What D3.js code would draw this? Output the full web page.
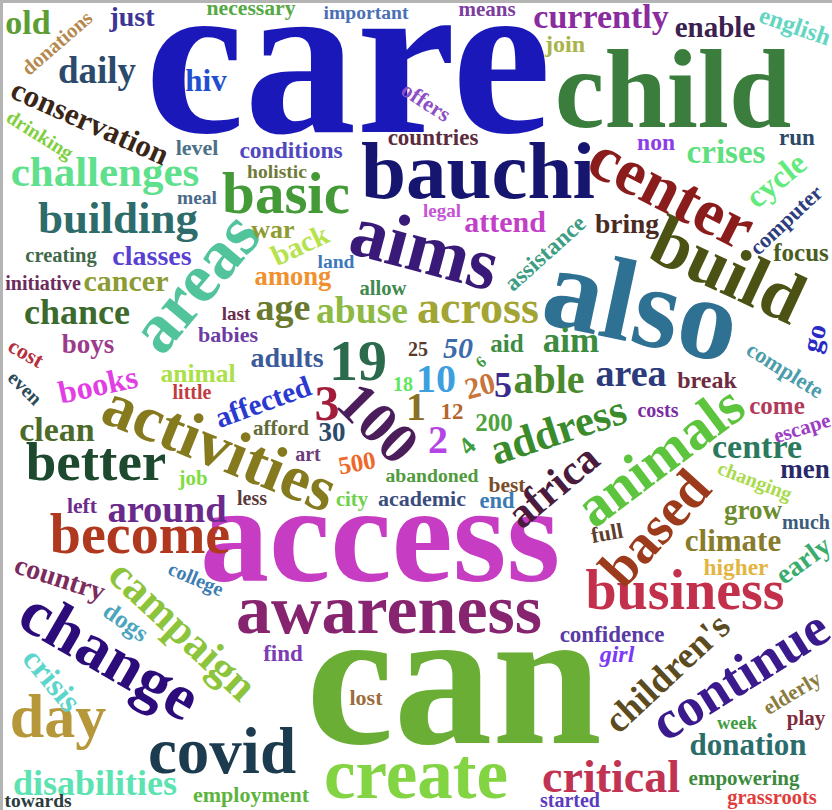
<!DOCTYPE html>
<html>
<head>
<meta charset="utf-8">
<script src="https://cdn.jsdelivr.net/npm/d3@7"></script>
<style>
  body { margin: 0; background: #fff; }
</style>
</head>
<body>
<div id="cloud"></div>
<script>
// words of the cloud, biggest first
var words = [
  'care', 'can', 'access', 'child', 'bauchi', 'also', 'build', 'center', 'aims', 'areas',
  'basic', 'activities', 'animals', 'awareness', 'change', 'covid', 'create', 'day', 'business', 'continue',
  'become', 'better', 'based', '19', 'campaign', 'critical', 'address', 'challenges', 'across', 'africa',
  'building', 'able', '100', 'around', 'area', 'abuse', '10', 'age', 'chance', 'disabilities',
  "children's", '3', '2', '1', 'daily', 'aim', '5', 'centre', 'clean', 'currently',
  'crises', 'cycle', 'books', 'conservation', 'climate', 'donation', 'hiv', 'crisis', 'attend', 'cancer',
  '50', '20', 'affected', 'enable', 'back', 'country', 'adults', 'classes', 'early', 'go',
  'bring', '30', 'boys', 'men', 'grow', 'among', 'war', 'just', 'old', 'dogs',
  'animal', 'focus', 'aid', '200', '4', '500', 'come', 'english', 'break', 'join',
  'non', 'conditions', 'assistance', 'girl', 'higher', 'run', 'countries', 'confidence', '12', 'find',
  'end', 'computer', 'complete', 'offers', 'academic', 'employment', 'level', 'babies', 'necessary', 'lost',
  'best', 'elderly', 'left', 'play', 'means', 'escape', 'afford', 'job', 'empowering', 'donations',
  'allow', 'city', 'creating', 'grassroots', 'drinking', 'initiative', 'little', 'less', 'costs', 'much',
  'changing', 'started', 'art', '25', '18', 'holistic', 'important', 'land', 'abandoned', 'towards',
  'meal', 'legal', 'last', 'college', 'cost', 'even', 'week', '6', 'full'
];

// word weight (drawn as font size)
var weights = [
  224, 197, 138, 112, 81, 117, 72, 66, 75, 70,
  59, 65, 58, 70, 65, 65, 71, 62, 56, 54,
  56, 55, 55, 58, 44, 46, 43, 43, 46, 42,
  45, 40, 58, 38.5, 38, 37.6, 40, 38, 36, 36,
  37, 50, 40, 40, 37, 35, 36, 34, 34, 34,
  33, 32, 32, 31, 31, 31, 31, 32, 30, 30,
  30, 30, 29.5, 29, 29, 28, 28, 28, 28, 28,
  27.5, 27, 27, 27, 27, 26.6, 26, 28, 34, 25,
  25.5, 25, 25, 25, 25, 25, 25, 24.6, 24, 24,
  23.5, 23.5, 23.7, 24, 23.4, 23, 23, 23, 23, 23,
  22.5, 22, 22.4, 22, 22, 22, 22, 22, 21.7, 22,
  21.5, 21.5, 21.6, 21, 21, 21, 21, 21, 21, 20.6,
  20.6, 20.6, 20.5, 20.5, 20, 20, 20, 20, 20, 20,
  20, 20, 20, 20, 20, 19.6, 19.6, 19.6, 19.7, 19.5,
  19.5, 19, 19, 20, 22, 20, 18.5, 16, 22
];

// placement of each word in the cloud grid (0..832 by 0..810) and its turn in degrees
var posX = [
  348, 454, 380, 673, 478, 642, 728, 672, 425, 195,
  286, 220, 660, 389, 110, 222, 416, 58, 685, 740,
  140, 96, 655, 358, 183, 611, 558, 105, 478, 553,
  118, 549, 378, 167, 631, 362, 436, 283, 77, 95,
  667, 327, 438, 416, 97, 571, 503, 757, 57, 601,
  726, 776, 98, 90, 733, 748, 206, 52, 505, 126,
  458, 480, 263, 715, 300, 60, 287, 152, 803, 814,
  627, 332, 88, 805, 753, 293, 273, 132, 28, 126,
  198, 801, 507, 494, 467, 357, 777, 795, 707, 565,
  656, 291, 545, 617, 736, 797, 433, 612, 452, 283,
  497, 786, 785, 426, 422, 251, 197, 228, 251, 366,
  507, 792, 82, 806, 487, 802, 281, 193, 744, 57,
  383, 352, 61, 772, 40, 43, 192, 252, 658, 806,
  755, 570, 308, 418, 403, 277, 366, 336, 432, 38,
  197, 442, 236, 196, 26, 25, 737, 481, 607
];
var posY = [
  58, 678, 535, 90, 171, 305, 270, 192, 248, 282,
  194, 447, 456, 610, 655, 752, 775, 717, 591, 675,
  535, 462, 528, 361, 630, 777, 430, 172, 308, 486,
  218, 380, 423, 509, 373, 311, 379, 307, 312, 783,
  673, 403, 440, 407, 71, 340, 385, 447, 430, 17,
  152, 180, 385, 122, 541, 745, 81, 680, 222, 281,
  348, 386, 402, 27, 245, 578, 358, 256, 560, 338,
  224, 432, 344, 469, 510, 276, 229, 17, 23, 622,
  374, 253, 344, 423, 446, 463, 406, 26, 380, 44,
  142, 150, 253, 654, 567, 137, 137, 634, 411, 653,
  501, 220, 370, 102, 499, 795, 148, 335, 8, 698,
  485, 693, 506, 718, 9, 428, 428, 478, 778, 43,
  288, 499, 255, 797, 135, 283, 392, 498, 410, 522,
  481, 800, 454, 349, 384, 172, 13, 262, 475, 801,
  198, 211, 314, 579, 353, 388, 723, 362, 533
];
var angles = [
  0, 0, 0, 0, 0, 12, 25, 27, 15, -50,
  0, 22, -37, 0, 30, 0, 0, 0, 0, -32,
  0, 0, -48, 0, 43, 0, -18, 0, 0, -40,
  0, 0, 45, 0, 0, 0, 0, 0, 0, 0,
  -43, 0, 0, 0, 0, 0, 0, 0, 0, 0,
  0, -39, -12, 24, 0, 0, 0, 50, 0, 0,
  0, -15, -20, 0, -25, 18, 0, 0, -36, -75,
  0, 0, 0, 0, 0, 0, 0, 0, 0, 35,
  0, 0, 0, 0, -45, -10, 0, 19, 0, 0,
  0, 0, -42, 0, 0, 0, 0, 0, 0, 0,
  0, -43, 32, 33, 0, 0, 0, 0, 0, 0,
  0, -31, 0, 0, 0, -17, 0, 0, 0, -41,
  0, 0, 0, 0, 32, 0, 0, 0, 0, 0,
  21, 0, 0, 0, 0, 0, 0, 0, 0, 0,
  0, 0, 0, 23, 30, 45, 0, -40, -10
];

var colors = [
  '#1a18b8', '#6aae36', '#c63cc2', '#3b7d3c', '#161670', '#2f7192', '#4b5213', '#8b1c1c', '#3a1a78', '#52c49c',
  '#449a37', '#857a1e', '#5cc43d', '#86246f', '#2c0c7a', '#1d3b4e', '#83d443', '#b6973a', '#c2304c', '#3a1a8c',
  '#b0381f', '#1d4a2e', '#9b3b1c', '#2b6a4c', '#8cc43b', '#c03352', '#3a8b2c', '#5fe08c', '#a2a433', '#4a1b3c',
  '#2e6b6b', '#4a8a2c', '#4b1d5a', '#6a2a8c', '#2b3b7b', '#8db944', '#3e9fe0', '#697a2e', '#3b6a2c', '#5de3b2',
  '#5b4b1e', '#a31c3c', '#b444e4', '#8a7122', '#2c4a6b', '#3d8b3f', '#3b2a8c', '#2c7a5e', '#4c6b2b', '#8a2b9e',
  '#5fe07f', '#63ea7c', '#e13fe4', '#3a2617', '#877b2c', '#2b6d6b', '#1f4fd0', '#5cd5cc', '#c23fc8', '#8c9c34',
  '#3b6cab', '#c8743a', '#2b39d0', '#3b2150', '#b6e34c', '#7b2b5e', '#3b5b9b', '#5a3fd4', '#3aac6e', '#2a2ac4',
  '#4a2a22', '#2c4b6b', '#9c3b8b', '#2a2a6a', '#6c8c2e', '#f0902e', '#8f9b2e', '#3c3596', '#5c9d34', '#4ca5bd',
  '#abe046', '#4b5d1f', '#3c8c44', '#4ca33e', '#3f9d3f', '#f0672a', '#b23b5b', '#63d6c2', '#6d2b3d', '#a9b34a',
  '#8b3ee6', '#5048c0', '#3d9d83', '#7b3af5', '#e2b542', '#2b4868', '#5b2b3e', '#5a3ba3', '#b4652d', '#7c3cb3',
  '#3b7bb3', '#2e3d7e', '#4b9dab', '#8d4fc4', '#3b4c7e', '#5cb43d', '#4b7088', '#6b3ca3', '#56a845', '#9b6d3c',
  '#7b4c2a', '#8a7c3d', '#6c2c8c', '#7d2c3c', '#7b3f9e', '#9c3dc4', '#5f6a37', '#7fdc41', '#3c8b3c', '#b5894e',
  '#3f8a4e', '#6cd24b', '#3f6a4a', '#e13c3c', '#7fcf3f', '#6d2b5c', '#c23b3e', '#5a3a3a', '#7c2ba3', '#3c5c7b',
  '#a9db4d', '#5a3cc0', '#6b3b7c', '#5a3a2a', '#5fe65f', '#6e7a35', '#4a6fb5', '#3d78bd', '#4f9b3d', '#2c3b3b',
  '#4a6a8a', '#c455d4', '#6b2b4d', '#3d7db3', '#b52f40', '#2c4a5a', '#3f9b3f', '#3c9a3c', '#5e3e2c'
];

var slanted = ['50', 'girl'];

var width = 832, height = 810;

var x = d3.scaleLinear().domain([0, 832]).range([0, width]);
var y = d3.scaleLinear().domain([0, 810]).range([0, height]);
var fontSize = d3.scaleLinear().domain([0, 224]).range([0, 224]);

var svg = d3.select('#cloud').append('svg')
  .attr('width', width)
  .attr('height', height);

svg.append('rect')
  .attr('width', width)
  .attr('height', height)
  .attr('fill', '#fff');

var cloud = words.map(function(w, i) {
  return { text: w, weight: weights[i], px: posX[i], py: posY[i], angle: angles[i], color: colors[i] };
});

svg.append('g')
  .attr('class', 'words')
  .selectAll('text')
  .data(cloud)
  .enter()
  .append('text')
  .attr('text-anchor', 'middle')
  .attr('dy', '0.33em')
  .attr('transform', function(d) {
    return 'translate(' + x(d.px) + ',' + y(d.py) + ') rotate(' + d.angle + ')';
  })
  .style('font-family', '"Liberation Serif", "Times New Roman", serif')
  .style('font-weight', 'bold')
  .style('font-style', function(d) { return slanted.indexOf(d.text) >= 0 ? 'italic' : 'normal'; })
  .style('font-size', function(d) { return fontSize(d.weight) + 'px'; })
  .style('fill', function(d) { return d.color; })
  .text(function(d) { return d.text; });

// grey frame on the top and left edge like the original picture
svg.append('path')
  .attr('d', 'M1.5,' + height + 'V1.5H' + width)
  .attr('fill', 'none')
  .attr('stroke', '#b4b4b4')
  .attr('stroke-width', 3);
</script>
</body>
</html>
